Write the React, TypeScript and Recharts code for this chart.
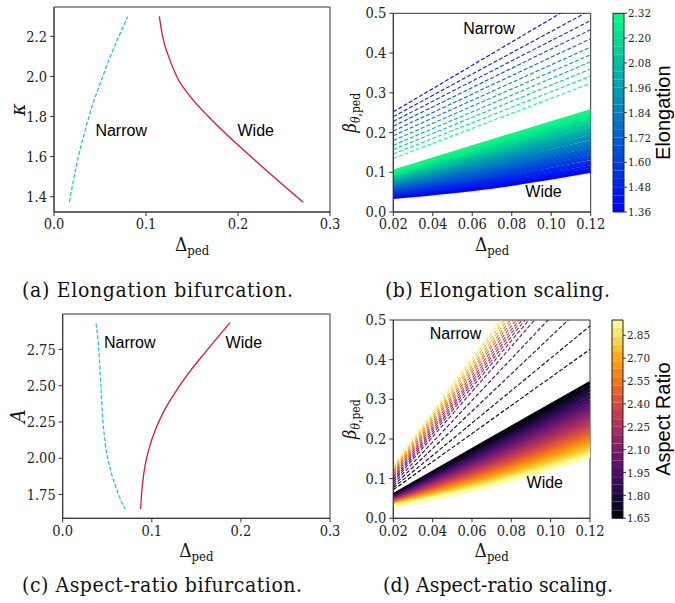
import React from 'react';
import { LineChart, Line, XAxis, YAxis, ReferenceArea, ReferenceDot } from 'recharts';

const SERIF = 'DejaVu Serif Condensed, DejaVu Serif';
const SANS = 'Liberation Sans, Arial, sans-serif';
const AXIS = '#333';

// ---------- Panel (a): elongation bifurcation ----------
const aNarrowX = [0.0167, 0.0215, 0.0265, 0.0335, 0.0413, 0.051, 0.0612, 0.0705, 0.0801];
const aNarrowK = [1.3733, 1.49, 1.6, 1.725, 1.85, 1.975, 2.1, 2.2, 2.2983];
const aWideX = [0.1145, 0.118, 0.1245, 0.1334, 0.148, 0.1678, 0.214, 0.2638, 0.271];
const aWideK = [2.3, 2.2, 2.1, 2.0, 1.9, 1.8, 1.6, 1.4, 1.372];
const aXTicks = [0, 0.1, 0.2, 0.3];
const aYTicks = [1.4, 1.6, 1.8, 2.0, 2.2];

// ---------- Panel (b): elongation scaling ----------
const bNarrowX = [0.02, 0.12];
const bNarrowKappa = [1.36, 1.456, 1.552, 1.648, 1.744, 1.84, 1.936, 2.032, 2.128, 2.224, 2.32];
const bNarrowStart = [0.252, 0.24, 0.228, 0.216, 0.204, 0.192, 0.18, 0.168, 0.157, 0.146, 0.135];
const bNarrowEnd = [0.545, 0.508, 0.482, 0.459, 0.436, 0.415, 0.396, 0.378, 0.36, 0.342, 0.324];
const bWideX = [0.02, 0.07, 0.12];
const bWideKappa = [1.36, 1.4, 1.44, 1.48, 1.52, 1.56, 1.6, 1.64, 1.68, 1.72, 1.76, 1.8, 1.84, 1.88, 1.92, 1.96, 2.0, 2.04, 2.08, 2.12, 2.16, 2.2, 2.24, 2.28, 2.32];
const bWideStart = [0.036, 0.039, 0.042, 0.044, 0.047, 0.05, 0.053, 0.056, 0.058, 0.061, 0.064, 0.067, 0.07, 0.072, 0.075, 0.078, 0.081, 0.083, 0.086, 0.089, 0.092, 0.095, 0.097, 0.1, 0.103];
const bWideMid = [0.062, 0.067, 0.072, 0.077, 0.082, 0.087, 0.091, 0.096, 0.101, 0.106, 0.111, 0.116, 0.121, 0.126, 0.131, 0.136, 0.141, 0.145, 0.15, 0.155, 0.16, 0.165, 0.17, 0.175, 0.18];
const bWideEnd = [0.102, 0.108, 0.114, 0.121, 0.127, 0.134, 0.14, 0.147, 0.153, 0.159, 0.166, 0.172, 0.178, 0.185, 0.191, 0.198, 0.204, 0.21, 0.217, 0.223, 0.23, 0.236, 0.242, 0.249, 0.255];
const bXTicks = [0.02, 0.04, 0.06, 0.08, 0.1, 0.12];
const bYTicks = [0, 0.1, 0.2, 0.3, 0.4, 0.5];
const bCbTicks = [1.36, 1.48, 1.6, 1.72, 1.84, 1.96, 2.08, 2.2, 2.32];

// ---------- Panel (c): aspect-ratio bifurcation ----------
const cNarrowX = [0.0374, 0.0405, 0.0428, 0.0452, 0.0478, 0.0525, 0.0597, 0.0699];
const cNarrowA = [2.928, 2.75, 2.5, 2.25, 2.1, 1.95, 1.8, 1.65];
const cWideX = [0.0875, 0.0885, 0.0905, 0.0935, 0.098, 0.105, 0.115, 0.128, 0.143, 0.16, 0.1878];
const cWideA = [1.65, 1.75, 1.87, 1.98, 2.09, 2.21, 2.34, 2.47, 2.6, 2.73, 2.935];
const cXTicks = [0, 0.1, 0.2, 0.3];
const cYTicks = [1.75, 2.0, 2.25, 2.5, 2.75];

// ---------- Panel (d): aspect-ratio scaling ----------
const dNarrowX = [0.02, 0.12];
const dNarrowA = [1.65, 1.73, 1.82, 1.9, 1.99, 2.07, 2.16, 2.24, 2.33, 2.41, 2.5, 2.58, 2.67, 2.75, 2.84, 2.92];
const dNarrowStart = [0.072, 0.077, 0.082, 0.087, 0.092, 0.096, 0.1, 0.104, 0.108, 0.112, 0.116, 0.119, 0.123, 0.126, 0.13, 0.134];
const dNarrowEnd = [0.426, 0.485, 0.552, 0.612, 0.66, 0.682, 0.697, 0.709, 0.72, 0.733, 0.746, 0.759, 0.773, 0.788, 0.803, 0.812];
const dWideX = [0.02, 0.07, 0.12];
const dWideA = [1.65, 1.7, 1.76, 1.81, 1.87, 1.92, 1.98, 2.03, 2.08, 2.14, 2.19, 2.25, 2.3, 2.36, 2.41, 2.46, 2.52, 2.57, 2.63, 2.68, 2.74, 2.79, 2.84, 2.9, 2.95];
const dWideStart = [0.059, 0.0576, 0.0562, 0.0548, 0.0535, 0.0522, 0.0509, 0.0496, 0.0483, 0.0471, 0.0459, 0.0447, 0.0435, 0.0423, 0.0412, 0.0401, 0.039, 0.0379, 0.0369, 0.0359, 0.0348, 0.0339, 0.0329, 0.032, 0.031];
const dWideMid = [0.201, 0.1951, 0.1893, 0.1836, 0.178, 0.1725, 0.167, 0.1617, 0.1564, 0.1512, 0.1461, 0.1411, 0.1362, 0.1314, 0.1266, 0.122, 0.1175, 0.113, 0.1086, 0.1043, 0.1001, 0.096, 0.0919, 0.088, 0.084];
const dWideEnd = [0.342, 0.3327, 0.3235, 0.3145, 0.3056, 0.2969, 0.2883, 0.2798, 0.2715, 0.2633, 0.2552, 0.2473, 0.2395, 0.2319, 0.2244, 0.2171, 0.2099, 0.2028, 0.1959, 0.1891, 0.1824, 0.1759, 0.1695, 0.1633, 0.1572];
const dXTicks = [0.02, 0.04, 0.06, 0.08, 0.1, 0.12];
const dYTicks = [0, 0.1, 0.2, 0.3, 0.4, 0.5];
const dCbTicks = [1.65, 1.8, 1.95, 2.1, 2.25, 2.4, 2.55, 2.7, 2.85];

const captions = [
  '(a) Elongation bifurcation.',
  '(b) Elongation scaling.',
  '(c) Aspect-ratio bifurcation.',
  '(d) Aspect-ratio scaling.',
];

// ---------- helpers ----------
const pts = (xs: number[], ys: number[]) => xs.map((x, i) => ({ x, y: ys[i] }));
const winter = (t: number) => `rgb(0, ${Math.round(255 * t)}, ${Math.round(255 * (1 - 0.5 * t))})`;
const INF = ['#000004', '#160b39', '#420a68', '#6a176e', '#932667', '#bc3754', '#dd513a', '#f37819', '#fca50a', '#f6d746', '#fcffa4'];
const h2r = (h: string) => [1, 3, 5].map((i) => parseInt(h.slice(i, i + 2), 16));
const inferno = (t: number) => {
  const c = Math.max(0, Math.min(1, t)) * 10;
  const i = Math.min(9, Math.floor(c));
  const f = c - i;
  const a = h2r(INF[i]);
  const b = h2r(INF[i + 1]);
  return `rgb(${a.map((v, k) => Math.round(v + (b[k] - v) * f)).join(',')})`;
};
const kNorm = (k: number) => (k - 1.36) / (2.32 - 1.36);
const aNorm = (a: number) => (a - 1.65) / (2.95 - 1.65);

const tickStyle = { fontFamily: SERIF, fontSize: 14.5, fill: '#222' };
const cbTickStyle = { fontFamily: SERIF, fontSize: 11.5, fill: '#222' };

const XTitle = (props: any) => {
  const vb = props.viewBox || { x: 0, y: 0, width: 0, height: 0 };
  const cx = vb.x + vb.width / 2;
  const y = vb.y + 38.5;
  return (
    <text x={cx} y={y} textAnchor="middle" fontFamily={SERIF} fill="#111">
      <tspan fontSize={19}>Δ</tspan>
      <tspan fontSize={13} dy={4}>ped</tspan>
    </text>
  );
};

const YTitle = (props: any) => {
  const vb = props.viewBox || { x: 0, y: 0, width: 0, height: 0 };
  const bx = props.bx;
  const cy = vb.y + vb.height / 2;
  let content: any = null;
  if (props.kind === 'kappa') content = <tspan fontSize={21} fontStyle="italic">κ</tspan>;
  if (props.kind === 'A') content = <tspan fontSize={21} fontStyle="italic">A</tspan>;
  if (props.kind === 'beta')
    content = (
      <>
        <tspan fontSize={18} fontStyle="italic">β</tspan>
        <tspan fontSize={12} dy={4} fontStyle="italic">θ</tspan>
        <tspan fontSize={12}>,ped</tspan>
      </>
    );
  return (
    <text x={bx} y={cy} transform={`rotate(-90, ${bx}, ${cy})`} textAnchor="middle" fontFamily={SERIF} fill="#111">
      {content}
    </text>
  );
};

const CbTitle = (props: any) => {
  const vb = props.viewBox || { x: 0, y: 0, width: 0, height: 0 };
  const bx = props.bx;
  const cy = vb.y + vb.height / 2;
  return (
    <text x={bx} y={cy} transform={`rotate(-90, ${bx}, ${cy})`} textAnchor="middle" fontFamily={SANS} fontSize={20} fill="#000">
      {props.text}
    </text>
  );
};

const annot = (text: string) => (p: any) => (
  <text x={p.cx} y={p.cy} textAnchor="middle" fontFamily={SANS} fontSize={16} fill="#000">
    {text}
  </text>
);

const cbFrame = [{ x: 0 }, { x: 1 }];

const Colorbar = (props: any) => {
  const { levels, ticks, domain, color, norm, top, bottom, left, title } = props;
  return (
    <LineChart width={75} height={260} data={cbFrame} margin={{ top, right: 0, bottom, left }}>
      <XAxis type="number" dataKey="x" domain={[0, 1]} hide />
      <YAxis
        type="number"
        orientation="right"
        domain={domain}
        ticks={ticks}
        tickFormatter={(v: number) => v.toFixed(2)}
        width={75 - left - 11}
        tickSize={3}
        tickMargin={1}
        tick={cbTickStyle}
        stroke={AXIS}
        axisLine={false}
        allowDataOverflow
        label={<CbTitle bx={70} text={title} />}
      />
      {levels.slice(0, -1).map((lv: number, i: number) => (
        <ReferenceArea key={i} x1={0} x2={1} y1={lv} y2={levels[i + 1]} fill={color(norm((lv + levels[i + 1]) / 2))} fillOpacity={1} stroke="none" ifOverflow="visible" />
      ))}
      <ReferenceArea x1={0} x2={1} y1={domain[0]} y2={domain[1]} fill="none" stroke="#222" strokeWidth={1} ifOverflow="visible" />
    </LineChart>
  );
};

export default function App() {
  return (
    <div style={{ position: 'absolute', left: 0, top: 0, width: 675, height: 603, background: '#fff', overflow: 'hidden' }}>
      {/* (a) */}
      <div style={{ position: 'absolute', left: 0, top: 0 }}>
        <LineChart width={350} height={264} margin={{ top: 7, right: 20, bottom: 0, left: 0 }}>
          <XAxis type="number" dataKey="x" domain={[0, 0.3]} ticks={aXTicks} tickFormatter={(v: number) => v.toFixed(1)} allowDataOverflow height={52} tickSize={4} tickMargin={3} tick={tickStyle} stroke={AXIS} label={<XTitle />} />
          <YAxis type="number" domain={[1.3235, 2.3465]} ticks={aYTicks} tickFormatter={(v: number) => v.toFixed(1)} allowDataOverflow width={54} tickSize={4} tickMargin={3} tick={tickStyle} stroke={AXIS} label={<YTitle kind="kappa" bx={25} />} />
          <ReferenceArea x1={0} x2={0.3} y1={1.3235} y2={2.3465} fill="none" stroke={AXIS} />
          <Line data={pts(aNarrowX, aNarrowK)} dataKey="y" type="monotone" stroke="#1ab8f2" strokeWidth={1.2} strokeDasharray="4 2" dot={false} isAnimationActive={false} />
          <Line data={pts(aWideX, aWideK)} dataKey="y" type="monotone" stroke="#dc143c" strokeWidth={1.3} dot={false} isAnimationActive={false} />
          <ReferenceDot x={0.073} y={1.7015} r={0} shape={annot('Narrow')} />
          <ReferenceDot x={0.2193} y={1.7015} r={0} shape={annot('Wide')} />
        </LineChart>
      </div>

      {/* (b) */}
      <div style={{ position: 'absolute', left: 340, top: 0 }}>
        <LineChart width={272} height={264} margin={{ top: 13.3, right: 21.3, bottom: 0, left: 0 }}>
          <XAxis type="number" dataKey="x" domain={[0.02, 0.12]} ticks={bXTicks} tickFormatter={(v: number) => v.toFixed(2)} allowDataOverflow height={52} tickSize={4} tickMargin={3} tick={tickStyle} stroke={AXIS} label={<XTitle />} />
          <YAxis type="number" domain={[0, 0.5]} ticks={bYTicks} tickFormatter={(v: number) => v.toFixed(1)} allowDataOverflow width={53.3} tickSize={4} tickMargin={3} tick={tickStyle} stroke={AXIS} label={<YTitle kind="beta" bx={16} />} />
          {bWideKappa.map((k, i) => (
            <Line key={'bw' + i} data={pts(bWideX, [bWideStart[i], bWideMid[i], bWideEnd[i]])} dataKey="y" type="monotone" stroke={winter(kNorm(k))} strokeWidth={2.8} dot={false} isAnimationActive={false} />
          ))}
          {bNarrowKappa.map((k, i) => (
            <Line key={'bn' + i} data={pts(bNarrowX, [bNarrowStart[i], bNarrowEnd[i]])} dataKey="y" type="linear" stroke={winter(kNorm(k))} strokeWidth={1.1} strokeDasharray="4 2" dot={false} isAnimationActive={false} />
          ))}
          <ReferenceArea x1={0.02} x2={0.12} y1={0} y2={0.5} fill="none" stroke={AXIS} />
          <ReferenceDot x={0.0685} y={0.448} r={0} shape={annot('Narrow')} />
          <ReferenceDot x={0.0961} y={0.037} r={0} shape={annot('Wide')} />
        </LineChart>
      </div>
      <div style={{ position: 'absolute', left: 600, top: 0 }}>
        <Colorbar levels={bWideKappa} ticks={bCbTicks} domain={[1.36, 2.32]} color={winter} norm={kNorm} top={13.3} bottom={48} left={13} title="Elongation" />
      </div>

      {/* (c) */}
      <div style={{ position: 'absolute', left: 0, top: 300 }}>
        <LineChart width={350} height={272} margin={{ top: 14, right: 20, bottom: 0, left: 0 }}>
          <XAxis type="number" dataKey="x" domain={[0, 0.3]} ticks={cXTicks} tickFormatter={(v: number) => v.toFixed(1)} allowDataOverflow height={53.7} tickSize={4} tickMargin={3} tick={tickStyle} stroke={AXIS} label={<XTitle />} />
          <YAxis type="number" domain={[1.586, 2.994]} ticks={cYTicks} tickFormatter={(v: number) => v.toFixed(2)} allowDataOverflow width={62.7} tickSize={4} tickMargin={3} tick={tickStyle} stroke={AXIS} label={<YTitle kind="A" bx={25} />} />
          <ReferenceArea x1={0} x2={0.3} y1={1.586} y2={2.994} fill="none" stroke={AXIS} />
          <Line data={pts(cNarrowX, cNarrowA)} dataKey="y" type="monotone" stroke="#1ab8f2" strokeWidth={1.2} strokeDasharray="4 2" dot={false} isAnimationActive={false} />
          <Line data={pts(cWideX, cWideA)} dataKey="y" type="monotone" stroke="#dc143c" strokeWidth={1.3} dot={false} isAnimationActive={false} />
          <ReferenceDot x={0.0752} y={2.76} r={0} shape={annot('Narrow')} />
          <ReferenceDot x={0.2033} y={2.76} r={0} shape={annot('Wide')} />
        </LineChart>
      </div>

      {/* (d) */}
      <div style={{ position: 'absolute', left: 340, top: 300 }}>
        <LineChart width={272} height={272} margin={{ top: 20, right: 22, bottom: 0, left: 0 }}>
          <XAxis type="number" dataKey="x" domain={[0.02, 0.12]} ticks={dXTicks} tickFormatter={(v: number) => v.toFixed(2)} allowDataOverflow height={53.7} tickSize={4} tickMargin={3} tick={tickStyle} stroke={AXIS} label={<XTitle />} />
          <YAxis type="number" domain={[0, 0.5]} ticks={dYTicks} tickFormatter={(v: number) => v.toFixed(1)} allowDataOverflow width={53.3} tickSize={4} tickMargin={3} tick={tickStyle} stroke={AXIS} label={<YTitle kind="beta" bx={16} />} />
          {dWideA.map((a, i) => (
            <Line key={'dw' + i} data={pts(dWideX, [dWideStart[i], dWideMid[i], dWideEnd[i]])} dataKey="y" type="monotone" stroke={inferno(aNorm(a))} strokeWidth={3.4} dot={false} isAnimationActive={false} />
          ))}
          {dNarrowA.map((a, i) => (
            <Line key={'dn' + i} data={pts(dNarrowX, [dNarrowStart[i], dNarrowEnd[i]])} dataKey="y" type="linear" stroke={inferno(aNorm(a))} strokeWidth={1.1} strokeDasharray="4 2" dot={false} isAnimationActive={false} />
          ))}
          <ReferenceArea x1={0.02} x2={0.12} y1={0} y2={0.5} fill="none" stroke={AXIS} />
          <ReferenceDot x={0.0516} y={0.451} r={0} shape={annot('Narrow')} />
          <ReferenceDot x={0.097} y={0.0756} r={0} shape={annot('Wide')} />
        </LineChart>
      </div>
      <div style={{ position: 'absolute', left: 600, top: 300 }}>
        <Colorbar levels={dWideA} ticks={dCbTicks} domain={[1.65, 2.95]} color={inferno} norm={aNorm} top={20} bottom={41.7} left={12} title="Aspect Ratio" />
      </div>

      {/* captions */}
      <svg width={675} height={603} style={{ position: 'absolute', left: 0, top: 0, pointerEvents: 'none' }}>
        <text x={22} y={297} fontFamily={SERIF} fontSize={21} fill="#111" textLength={271} lengthAdjust="spacing">{captions[0]}</text>
        <text x={385} y={297} fontFamily={SERIF} fontSize={21} fill="#111" textLength={225} lengthAdjust="spacing">{captions[1]}</text>
        <text x={22} y={592} fontFamily={SERIF} fontSize={21} fill="#111" textLength={280} lengthAdjust="spacing">{captions[2]}</text>
        <text x={383} y={592} fontFamily={SERIF} fontSize={21} fill="#111" textLength={230} lengthAdjust="spacing">{captions[3]}</text>
      </svg>
    </div>
  );
}
